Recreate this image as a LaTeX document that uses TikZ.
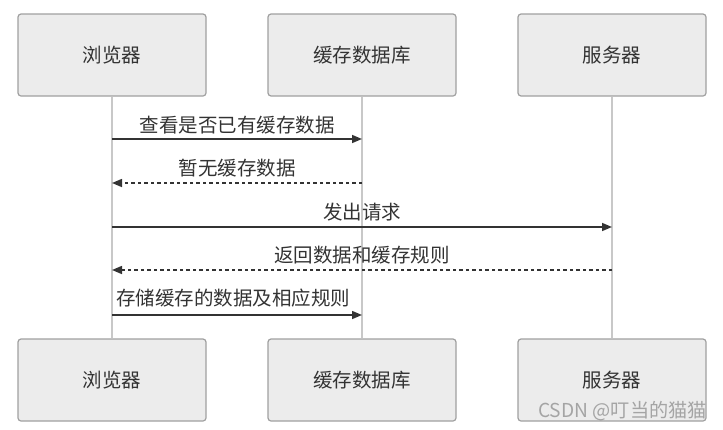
\documentclass[tikz,border=0pt]{standalone}
\usepackage{fontspec}
\setmainfont{Noto Sans CJK SC}
\usetikzlibrary{arrows.meta}
\definecolor{boxfill}{HTML}{ECECEC}
\definecolor{boxline}{HTML}{A0A0A0}
\definecolor{lifeline}{HTML}{C8C8C8}
\definecolor{ink}{HTML}{333333}
\tikzset{
  actor/.style={draw=boxline, fill=boxfill, line width=1.2pt, rounded corners=3pt,
    minimum width=188pt, minimum height=82pt, inner sep=0pt,
    font=\fontsize{19.5pt}{22pt}\selectfont, text=ink},
  life/.style={draw=lifeline, line width=1.5pt},
  msg/.style={draw=ink, line width=1.5pt, -{Triangle[length=10pt,width=8pt]}},
  reply/.style={msg, dash pattern=on 3.5pt off 3pt},
  lbl/.style={font=\fontsize{19.5pt}{22pt}\selectfont, text=ink, inner sep=0pt},
}
\begin{document}
\begin{tikzpicture}[x=1pt,y=-1pt]
\useasboundingbox (0,0) rectangle (723,429);
% actors
\node[actor] (b1) at (112,55) {浏览器};
\node[actor] (c1) at (362,55) {缓存数据库};
\node[actor] (s1) at (612,55) {服务器};
\node[actor] (b2) at (112,380) {浏览器};
\node[actor] (c2) at (362,380) {缓存数据库};
\node[actor] (s2) at (612,380) {服务器};
% lifelines
\draw[life] (b1.south) -- (b2.north);
\draw[life] (c1.south) -- (c2.north);
\draw[life] (s1.south) -- (s2.north);
% message anchors
\coordinate (m1b) at (112,139); \coordinate (m1c) at (362,139);
\coordinate (m2b) at (112,183); \coordinate (m2c) at (362,183);
\coordinate (m3b) at (112,227); \coordinate (m3s) at (612,227);
\coordinate (m4b) at (112,270); \coordinate (m4s) at (612,270);
\coordinate (m5b) at (112,315); \coordinate (m5c) at (362,315);
\draw[msg] (m1b) -- (m1c);
\draw[reply] (m2c) -- (m2b);
\draw[msg] (m3b) -- (m3s);
\draw[reply] (m4s) -- (m4b);
\draw[msg] (m5b) -- (m5c);
\node[lbl] (l1) at (237,125) {查看是否已有缓存数据};
\node[lbl] (l2) at (237,168) {暂无缓存数据};
\node[lbl] (l3) at (362,212) {发出请求};
\node[lbl] (l4) at (362,255) {返回数据和缓存规则};
\node[lbl, anchor=west] (l5) at (116,298) {存储缓存的数据及相应规则};
% watermark
\node[font=\fontsize{19.2pt}{22pt}\selectfont, text=black, opacity=0.3, anchor=east, inner sep=0pt] (wm) at (707,411) {CSDN @叮当的猫猫};
\end{tikzpicture}
\end{document}
